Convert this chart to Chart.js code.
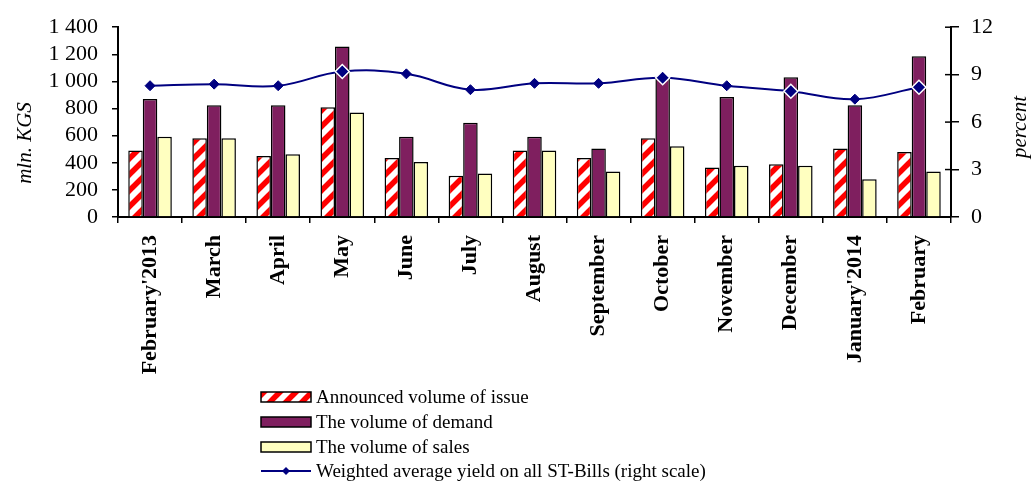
<!DOCTYPE html>
<html>
<head>
<meta charset="utf-8">
<script src="https://cdn.jsdelivr.net/npm/chart.js@4.4.1/dist/chart.umd.min.js"></script>
<style>
  html, body { margin: 0; padding: 0; background: #fff; }
  #wrap { width: 1031px; height: 483px; position: relative; }
</style>
</head>
<body>
<div id="wrap"><canvas id="chart" width="1031" height="483"></canvas></div>
<script>
const months = ["February'2013", 'March', 'April', 'May', 'June', 'July', 'August', 'September', 'October', 'November', 'December', "January'2014", 'February'];
const announced = [490, 580, 450, 810, 435, 305, 490, 435, 580, 365, 390, 505, 480];
const demand = [870, 825, 825, 1258, 592, 695, 592, 505, 1025, 885, 1030, 825, 1185];
const sales = [592, 580, 462, 770, 405, 320, 490, 335, 522, 378, 378, 278, 335];
const yieldPct = [8.3, 8.4, 8.3, 9.2, 9.05, 8.05, 8.45, 8.45, 8.8, 8.3, 7.95, 7.45, 8.2];
const leftTicks = [0, 200, 400, 600, 800, 1000, 1200, 1400];
const rightTicks = [0, 3, 6, 9, 12];

const legendNames = ['Announced volume of issue', 'The volume of demand', 'The volume of sales', 'Weighted average yield on all ST-Bills (right scale)'];
const bigMarkers = [3, 8, 10, 12]; // points drawn larger with a white rim

const SERIF = '"Liberation Serif", "Times New Roman", serif';
const NAVY = '#000080';
const PLUM = '#7f1f5f';
const CREAM = '#ffffc0';

// red/white diagonal hatch
function stripes() {
  const p = 16;
  const c = document.createElement('canvas');
  c.width = p; c.height = p;
  const g = c.getContext('2d');
  g.fillStyle = '#fff';
  g.fillRect(0, 0, p, p);
  g.strokeStyle = '#ff0000';
  g.lineWidth = 5.5;
  [[-p, p, p, -p], [0, p, p, 0], [0, 2 * p, 2 * p, 0]].forEach(l => {
    g.beginPath(); g.moveTo(l[0], l[1]); g.lineTo(l[2], l[3]); g.stroke();
  });
  return g.createPattern(c, 'repeat');
}
const hatch = stripes();

const fmt = v => v >= 1000 ? Math.floor(v / 1000) + ' ' + String(v % 1000).padStart(3, '0') : String(v);

const extras = {
  id: 'extras',
  afterDraw(chart) {
    const ctx = chart.ctx;
    const r = chart.scales.y1;
    ctx.save();
    // inner half of right-axis ticks
    ctx.strokeStyle = '#000';
    ctx.lineWidth = 1.5;
    rightTicks.forEach(v => {
      const y = r.getPixelForValue(v);
      ctx.beginPath(); ctx.moveTo(r.left - 6, y); ctx.lineTo(r.left, y); ctx.stroke();
    });
    // axis titles
    ctx.fillStyle = '#000';
    ctx.textAlign = 'center';
    ctx.textBaseline = 'middle';
    ctx.font = 'italic 21px ' + SERIF;
    ctx.save(); ctx.translate(25, 143); ctx.rotate(-Math.PI / 2); ctx.fillText('mln. KGS', 0, 0); ctx.restore();
    ctx.save(); ctx.translate(1020, 127); ctx.rotate(-Math.PI / 2); ctx.fillText('percent', 0, 0); ctx.restore();

    // legend
    ctx.font = '19px ' + SERIF;
    ctx.textAlign = 'left';
    const rows = [397, 422, 447, 471];
    const fills = [hatch, PLUM, CREAM];
    fills.forEach((f, i) => {
      ctx.fillStyle = f;
      ctx.fillRect(261, rows[i] - 5, 50, 10);
      ctx.lineWidth = 1.5;
      ctx.strokeStyle = '#000';
      ctx.strokeRect(261, rows[i] - 5, 50, 10);
    });
    ctx.strokeStyle = NAVY;
    ctx.lineWidth = 2;
    ctx.beginPath(); ctx.moveTo(261, rows[3]); ctx.lineTo(311, rows[3]); ctx.stroke();
    ctx.fillStyle = NAVY;
    ctx.beginPath();
    ctx.moveTo(286, rows[3] - 4); ctx.lineTo(290, rows[3]); ctx.lineTo(286, rows[3] + 4); ctx.lineTo(282, rows[3]);
    ctx.closePath(); ctx.fill();
    ctx.fillStyle = '#000';
    legendNames.forEach((t, i) => ctx.fillText(t, 316, rows[i] + 1));
    ctx.restore();
  }
};

const barBase = { borderColor: '#000', borderWidth: 1.5, categoryPercentage: 0.68, barPercentage: 1.0, yAxisID: 'y', order: 1 };

new Chart(document.getElementById('chart'), {
  type: 'bar',
  data: {
    labels: months,
    datasets: [
      { ...barBase, label: legendNames[0], data: announced, backgroundColor: hatch },
      { ...barBase, label: legendNames[1], data: demand, backgroundColor: PLUM },
      { ...barBase, label: legendNames[2], data: sales, backgroundColor: CREAM },
      {
        type: 'line', label: legendNames[3], data: yieldPct, yAxisID: 'y1', order: 0,
        borderColor: NAVY, borderWidth: 2, tension: 0.4,
        pointStyle: 'rectRot', pointBackgroundColor: NAVY,
        pointRadius: c => bigMarkers.includes(c.dataIndex) ? 7 : 5,
        pointBorderColor: c => bigMarkers.includes(c.dataIndex) ? '#fff' : NAVY,
        pointBorderWidth: c => bigMarkers.includes(c.dataIndex) ? 1.5 : 1
      }
    ]
  },
  options: {
    responsive: false,
    animation: false,
    devicePixelRatio: 1,
    layout: { padding: { top: 18, left: 0, right: 0, bottom: 0 } },
    plugins: { legend: { display: false }, tooltip: { enabled: false } },
    scales: {
      x: {
        afterFit: s => { s.height = 266; },
        grid: { offset: true, drawOnChartArea: false, color: '#000', lineWidth: 1.5, tickLength: 6 },
        border: { color: '#000', width: 2 },
        ticks: { color: '#000', font: { family: SERIF, size: 22, weight: 'bold' }, minRotation: 90, maxRotation: 90, padding: 12, autoSkip: false }
      },
      y: {
        position: 'left',
        min: 0, max: 1400,
        afterFit: s => { s.width = 118; },
        afterBuildTicks: s => { s.ticks = leftTicks.map(v => ({ value: v })); },
        grid: { drawOnChartArea: false, color: '#000', lineWidth: 1.5, tickLength: 6 },
        border: { color: '#000', width: 2 },
        ticks: { color: '#000', font: { family: SERIF, size: 22 }, padding: 14, autoSkip: false, callback: v => fmt(v) }
      },
      y1: {
        position: 'right',
        min: 0, max: 12,
        afterFit: s => { s.width = 80; },
        afterBuildTicks: s => { s.ticks = rightTicks.map(v => ({ value: v })); },
        grid: { drawOnChartArea: false, color: '#000', lineWidth: 1.5, tickLength: 8 },
        border: { color: '#000', width: 2 },
        ticks: { color: '#000', font: { family: SERIF, size: 22 }, padding: 12, autoSkip: false }
      }
    }
  },
  plugins: [extras]
});
</script>
</body>
</html>
